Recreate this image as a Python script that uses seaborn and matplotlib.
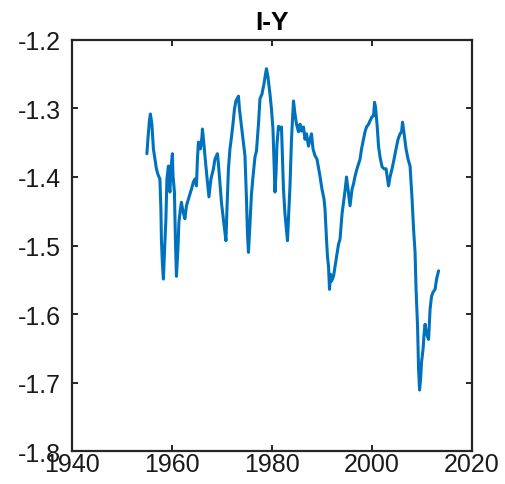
import matplotlib
matplotlib.use("Agg")
import matplotlib.pyplot as plt
import seaborn as sns
import pandas as pd

title = "I-Y"

years = [
    1955.0, 1955.2, 1955.5, 1955.7, 1956.0, 1956.3, 1956.6, 1956.9, 1957.2, 1957.6,
    1957.8, 1957.9, 1958.1, 1958.3, 1958.5, 1958.8, 1959.0, 1959.3, 1959.4, 1959.6,
    1959.8, 1960.1, 1960.2, 1960.5, 1960.7, 1960.9, 1961.2, 1961.4, 1961.7, 1961.9,
    1962.2, 1962.6, 1962.9, 1963.3, 1963.6, 1963.9, 1964.3, 1964.6, 1964.9, 1965.1,
    1965.3, 1965.5, 1965.7, 1966.0, 1966.1, 1966.4, 1966.6, 1967.0, 1967.4, 1967.8,
    1968.3, 1968.6, 1969.1, 1969.3, 1969.5, 1969.9, 1970.4, 1970.8, 1971.0, 1971.3,
    1971.6, 1971.9, 1972.2, 1972.5, 1972.8, 1973.0, 1973.3, 1973.5, 1973.9, 1974.2,
    1974.6, 1974.9, 1975.1, 1975.3, 1975.5, 1975.7, 1975.9, 1976.2, 1976.6, 1976.9,
    1977.3, 1977.6, 1978.0, 1978.4, 1978.7, 1978.9, 1979.2, 1979.6, 1979.9, 1980.2,
    1980.4, 1980.6, 1980.8, 1981.0, 1981.3, 1981.6, 1981.9, 1982.3, 1982.6, 1983.1,
    1983.3, 1983.6, 1983.9, 1984.3, 1984.6, 1984.9, 1985.3, 1985.6, 1985.9, 1986.3,
    1986.6, 1986.9, 1987.3, 1987.6, 1987.9, 1988.2, 1988.6, 1989.0, 1989.6, 1990.0,
    1990.4, 1990.6, 1990.9, 1991.1, 1991.3, 1991.5, 1991.7, 1991.9, 1992.3, 1992.6,
    1993.0, 1993.3, 1993.6, 1994.0, 1994.4, 1994.6, 1994.9, 1995.2, 1995.6, 1996.0,
    1996.3, 1996.6, 1997.0, 1997.3, 1997.6, 1997.9, 1998.3, 1998.6, 1998.9, 1999.3,
    1999.6, 2000.0, 2000.3, 2000.5, 2000.7, 2001.0, 2001.3, 2001.6, 2002.0, 2002.4,
    2002.8, 2003.1, 2003.3, 2003.6, 2004.0, 2004.4, 2004.8, 2005.2, 2005.6, 2005.9,
    2006.1, 2006.4, 2006.8, 2007.2, 2007.6, 2008.0, 2008.3, 2008.6, 2008.8, 2009.1,
    2009.3, 2009.5, 2009.7, 2009.9, 2010.2, 2010.4, 2010.6, 2010.9, 2011.3, 2011.6,
    2011.9, 2012.2, 2012.6, 2012.9, 2013.3,
]

values = [
    -1.366, -1.345, -1.318, -1.308, -1.323, -1.359, -1.374, -1.388, -1.396, -1.403,
    -1.447, -1.491, -1.527, -1.549, -1.512, -1.461, -1.403, -1.384, -1.410, -1.422,
    -1.388, -1.366, -1.396, -1.422, -1.491, -1.545, -1.505, -1.466, -1.447, -1.437,
    -1.450, -1.461, -1.442, -1.432, -1.425, -1.418, -1.407, -1.403, -1.413, -1.374,
    -1.349, -1.356, -1.359, -1.342, -1.330, -1.352, -1.369, -1.400, -1.429, -1.403,
    -1.388, -1.374, -1.366, -1.381, -1.399, -1.437, -1.469, -1.493, -1.447, -1.388,
    -1.359, -1.342, -1.323, -1.301, -1.289, -1.286, -1.282, -1.301, -1.326, -1.345,
    -1.369, -1.432, -1.483, -1.510, -1.483, -1.454, -1.425, -1.400, -1.371, -1.362,
    -1.323, -1.286, -1.279, -1.264, -1.250, -1.242, -1.254, -1.279, -1.301, -1.330,
    -1.374, -1.422, -1.396, -1.352, -1.326, -1.330, -1.327, -1.418, -1.454, -1.493,
    -1.461, -1.413, -1.345, -1.289, -1.308, -1.323, -1.334, -1.323, -1.333, -1.327,
    -1.345, -1.337, -1.355, -1.345, -1.337, -1.359, -1.369, -1.374, -1.399, -1.418,
    -1.432, -1.447, -1.491, -1.517, -1.530, -1.564, -1.542, -1.552, -1.545, -1.531,
    -1.512, -1.498, -1.491, -1.454, -1.432, -1.420, -1.400, -1.418, -1.442, -1.418,
    -1.410, -1.399, -1.388, -1.381, -1.374, -1.359, -1.345, -1.334, -1.327, -1.323,
    -1.318, -1.312, -1.311, -1.291, -1.298, -1.323, -1.355, -1.371, -1.385, -1.388,
    -1.388, -1.403, -1.413, -1.400, -1.388, -1.374, -1.359, -1.345, -1.337, -1.334,
    -1.320, -1.337, -1.359, -1.374, -1.384, -1.432, -1.476, -1.510, -1.564, -1.618,
    -1.680, -1.711, -1.695, -1.670, -1.651, -1.629, -1.615, -1.629, -1.637, -1.593,
    -1.574, -1.568, -1.564, -1.549, -1.537,
]

x_ticks = [1940, 1960, 1980, 2000, 2020]
y_ticks = [-1.8, -1.7, -1.6, -1.5, -1.4, -1.3, -1.2]

sns.set_style("ticks")
plt.rcParams["font.family"] = ["Liberation Sans", "DejaVu Sans"]

df = pd.DataFrame({"year": years, "value": values})

fig = plt.figure(figsize=(5.06, 4.85), dpi=100)
ax = fig.add_axes([0.142, 0.068, 0.791, 0.8475])

sns.lineplot(data=df, x="year", y="value", sort=False, ax=ax,
             color="#0072BD", linewidth=2.2)

ax.set_xlim(1940, 2020)
ax.set_ylim(-1.8, -1.2)
ax.set_xticks(x_ticks)
ax.set_xticklabels([str(t) for t in x_ticks])
ax.set_yticks(y_ticks)
ax.set_yticklabels([f"{t:.1f}" for t in y_ticks])
ax.set_xlabel("")
ax.set_ylabel("")

for s in ax.spines.values():
    s.set_visible(True)
    s.set_color("#262626")
    s.set_linewidth(1.6)

ax.tick_params(axis="both", direction="in", length=4, width=1.4,
               colors="#262626", labelcolor="#1a1a1a", labelsize=18,
               top=True, right=True)
ax.tick_params(axis="x", pad=1)
ax.tick_params(axis="y", pad=8)

ax.set_title(title, fontsize=19, fontweight="bold", color="black", pad=8)

fig.savefig("out.png", dpi=100)
